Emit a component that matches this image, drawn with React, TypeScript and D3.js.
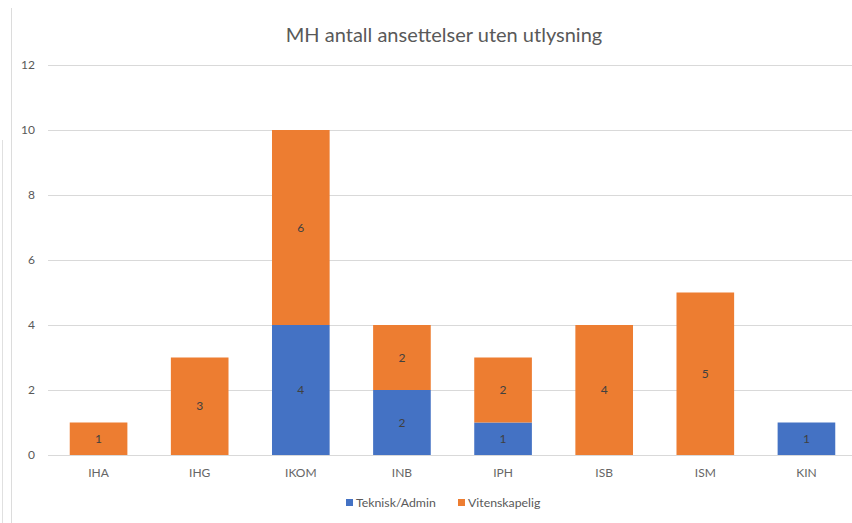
import React from "react";
import * as d3 from "d3";

const categories = ["IHA", "IHG", "IKOM", "INB", "IPH", "ISB", "ISM", "KIN"];
const teknisk = [0, 0, 4, 2, 1, 0, 0, 1];
const vitenskapelig = [1, 3, 6, 2, 2, 4, 5, 0];
const seriesNames = ["Teknisk/Admin", "Vitenskapelig"];
const seriesColors = ["#4472C4", "#ED7D31"];
const yTicks = [0, 2, 4, 6, 8, 10, 12];
const title = "MH antall ansettelser uten utlysning";

const W = 852;
const H = 523;
const FONT = "Lato, 'Open Sans', sans-serif";

export default function App() {
  const x = d3.scaleBand<string>().domain(categories).range([48, 857]).paddingInner(0.43).paddingOuter(0.215);
  const y = d3.scaleLinear().domain([0, 12]).range([455, 65]);

  const rows = categories.map((c, i) => ({ cat: c, t: teknisk[i], v: vitenskapelig[i] }));
  const stack = d3.stack<any>().keys(["t", "v"])(rows);

  return (
    <svg width={W} height={H} style={{ position: "absolute", left: 0, top: 0, background: "#fff" }}>
      <rect x={0} y={0} width={W} height={H} fill="#fff" />
      {/* spreadsheet edge artifacts */}
      <line x1={11.5} y1={8} x2={11.5} y2={H} stroke="#dcdcdc" />
      <line x1={2.5} y1={140} x2={2.5} y2={H} stroke="#e0e0e0" />
      <text x={444} y={42} textAnchor="middle" fontFamily={FONT} fontSize={20} fill="#595959">{title}</text>
      {yTicks.map((t) => (
        <g key={t}>
          <line x1={48} x2={W} y1={y(t) + 0.5} y2={y(t) + 0.5} stroke="#d9d9d9" />
          <text x={35} y={y(t) + 4} textAnchor="end" fontFamily={FONT} fontSize={12} fill="#595959">{t}</text>
        </g>
      ))}
      {stack.map((s, si) => (
        <g key={si}>
          {s.map((d, i) => {
            const v = d[1] - d[0];
            if (v <= 0) return null;
            const bx = x(categories[i])!;
            return (
              <g key={i}>
                <rect x={bx} y={y(d[1])} width={x.bandwidth()} height={y(d[0]) - y(d[1])} fill={seriesColors[si]} />
                <text x={bx + x.bandwidth() / 2} y={(y(d[0]) + y(d[1])) / 2 + 4} textAnchor="middle" fontFamily={FONT} fontSize={12} fill="#404040">{v}</text>
              </g>
            );
          })}
        </g>
      ))}
      {categories.map((c) => (
        <text key={c} x={x(c)! + x.bandwidth() / 2} y={477} textAnchor="middle" fontFamily={FONT} fontSize={12} fill="#666">{c}</text>
      ))}
      <g>
        <rect x={346} y={499} width={7} height={7} fill={seriesColors[0]} />
        <text x={356} y={507} fontFamily={FONT} fontSize={12.3} fill="#595959">{seriesNames[0]}</text>
        <rect x={458} y={499} width={7} height={7} fill={seriesColors[1]} />
        <text x={468} y={507} fontFamily={FONT} fontSize={12.3} fill="#595959">{seriesNames[1]}</text>
      </g>
    </svg>
  );
}
